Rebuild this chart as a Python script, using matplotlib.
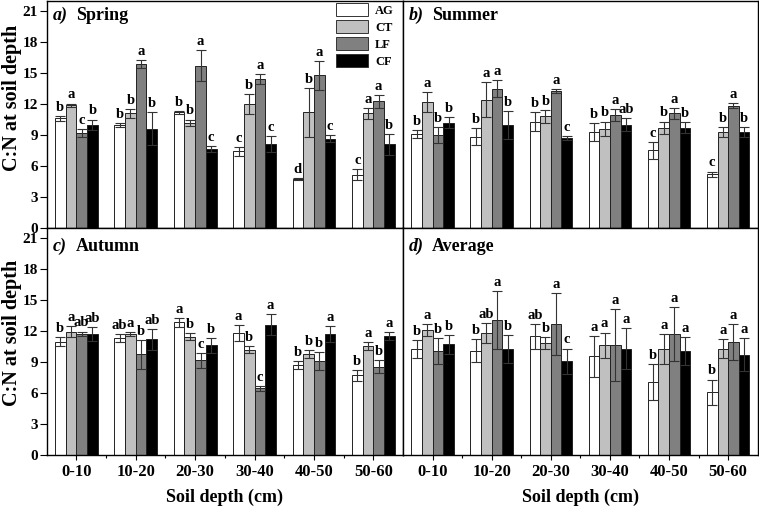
import matplotlib
matplotlib.use("Agg")
import matplotlib.pyplot as plt
import numpy as np
from matplotlib.patches import Patch
from matplotlib.ticker import MultipleLocator, FixedLocator

plt.rcParams['font.family'] = ['Liberation Serif', 'DejaVu Serif']
plt.rcParams['font.weight'] = 'bold'

depths = ["0-10", "10-20", "20-30", "30-40", "40-50", "50-60"]
treatments = ["AG", "CT", "LF", "CF"]
colors = ["#FFFFFF", "#C0C0C0", "#808080", "#000000"]

# Spring
spring_mean = {
    "AG": [10.6, 10.0, 11.2, 7.4, 4.75, 5.15],
    "CT": [11.9, 11.1, 10.2, 12.0, 11.2, 11.1],
    "LF": [9.2, 15.85, 15.7, 14.4, 14.8, 12.25],
    "CF": [10.0, 9.6, 7.65, 8.1, 8.65, 8.1],
}
spring_err = {
    "AG": [0.2, 0.2, 0.15, 0.4, 0.1, 0.5],
    "CT": [0.15, 0.45, 0.3, 1.0, 2.35, 0.55],
    "LF": [0.4, 0.4, 1.5, 0.5, 1.4, 0.6],
    "CF": [0.5, 1.6, 0.3, 0.8, 0.35, 1.0],
}
spring_let = {
    "AG": ["b", "b", "b", "c", "d", "c"],
    "CT": ["a", "b", "b", "b", "b", "a"],
    "LF": ["c", "a", "a", "a", "a", "a"],
    "CF": ["b", "b", "c", "c", "c", "b"],
}

# Summer
summer_mean = {
    "AG": [9.1, 8.85, 10.3, 9.3, 7.5, 5.2],
    "CT": [12.2, 12.4, 10.8, 9.6, 9.7, 9.3],
    "LF": [9.0, 13.5, 13.25, 10.95, 11.1, 11.85],
    "CF": [10.2, 10.0, 8.7, 10.0, 9.7, 9.3],
}
summer_err = {
    "AG": [0.4, 0.85, 0.9, 0.85, 0.8, 0.25],
    "CT": [1.0, 1.7, 0.6, 0.7, 0.6, 0.5],
    "LF": [0.8, 0.8, 0.2, 0.55, 0.55, 0.25],
    "CF": [0.5, 1.35, 0.2, 0.6, 0.55, 0.45],
}
summer_let = {
    "AG": ["b", "b", "b", "b", "c", "c"],
    "CT": ["a", "a", "b", "b", "b", "b"],
    "LF": ["b", "a", "a", "a", "a", "a"],
    "CF": ["b", "b", "c", "ab", "b", "b"],
}

# Autumn
autumn_mean = {
    "AG": [10.98, 11.3, 12.85, 11.8, 8.7, 7.7],
    "CT": [11.95, 11.7, 11.45, 10.2, 9.8, 10.55],
    "LF": [11.75, 9.75, 9.15, 6.45, 9.1, 8.55],
    "CF": [11.7, 11.2, 10.6, 12.6, 11.7, 11.5],
}
autumn_err = {
    "AG": [0.4, 0.4, 0.45, 0.8, 0.35, 0.55],
    "CT": [0.5, 0.2, 0.35, 0.35, 0.4, 0.4],
    "LF": [0.2, 1.4, 0.75, 0.25, 0.85, 0.65],
    "CF": [0.7, 1.0, 0.7, 1.0, 0.8, 0.4],
}
autumn_let = {
    "AG": ["b", "ab", "a", "a", "b", "b"],
    "CT": ["a", "a", "b", "b", "b", "a"],
    "LF": ["ab", "b", "c", "c", "b", "b"],
    "CF": ["ab", "ab", "b", "a", "a", "a"],
}

# Average
average_mean = {
    "AG": [10.25, 10.1, 11.5, 9.55, 7.05, 6.05],
    "CT": [12.1, 11.8, 10.85, 10.6, 10.25, 10.3],
    "LF": [10.05, 13.05, 12.7, 10.65, 11.7, 10.95],
    "CF": [10.7, 10.3, 9.05, 10.3, 10.05, 9.7],
}
average_err = {
    "AG": [0.85, 1.1, 1.2, 2.0, 1.75, 1.25],
    "CT": [0.6, 1.0, 0.6, 1.25, 1.45, 0.9],
    "LF": [1.25, 2.8, 3.0, 3.45, 2.6, 1.75],
    "CF": [0.95, 1.35, 1.25, 1.95, 1.35, 1.6],
}
average_let = {
    "AG": ["b", "b", "ab", "a", "b", "b"],
    "CT": ["a", "ab", "b", "a", "a", "a"],
    "LF": ["b", "a", "a", "a", "a", "a"],
    "CF": ["b", "b", "c", "a", "a", "a"],
}

panels = [
    ("a)", "Spring", spring_mean, spring_err, spring_let),
    ("b)", "Summer", summer_mean, summer_err, summer_let),
    ("c)", "Autumn", autumn_mean, autumn_err, autumn_let),
    ("d)", "Average", average_mean, average_err, average_let),
]

W, H = 759, 509
fig = plt.figure(figsize=(W / 100, H / 100), dpi=100)

lx0, lx1 = 46.7, 403.0
rx0, rx1 = 403.0, 757.7
ty0, ty1 = 1.0, 227.7
by0, by1 = 227.7, 455.0

def rect(x0, x1, y0, y1):
    return [x0 / W, 1 - y1 / H, (x1 - x0) / W, (y1 - y0) / H]

rects = [rect(lx0, lx1, ty0, ty1), rect(rx0, rx1, ty0, ty1),
         rect(lx0, lx1, by0, by1), rect(rx0, rx1, by0, by1)]

bw = 0.18
offsets = [-0.27, -0.09, 0.09, 0.27]
x = np.arange(len(depths))

for i, (tag, name, mean, err, let) in enumerate(panels):
    ax = fig.add_axes(rects[i])
    for j, t in enumerate(treatments):
        ax.bar(x + offsets[j], mean[t], width=bw, color=colors[j],
               edgecolor="#222222", linewidth=0.7, label=t, zorder=2)
        ax.errorbar(x + offsets[j], mean[t], yerr=err[t], fmt='none',
                    ecolor="#333333", elinewidth=0.8, capsize=3.5,
                    capthick=0.8, zorder=3)
        for k in range(len(depths)):
            ax.annotate(let[t][k], (x[k] + offsets[j], mean[t][k] + err[t][k]),
                        xytext=(0, 1.5), textcoords='offset points',
                        ha='center', va='bottom', fontsize=10.5,
                        fontweight='bold')
    ax.set_xlim(-0.5, 5.5)
    ax.set_ylim(0, 22)
    for s in ax.spines.values():
        s.set_linewidth(1.0)
    ax.xaxis.set_major_locator(FixedLocator(x))
    ax.xaxis.set_minor_locator(FixedLocator(x[:-1] + 0.5))
    ax.tick_params(axis='x', which='major', direction='out', length=3.5,
                   width=0.8, labelsize=12, pad=3)
    ax.tick_params(axis='x', which='minor', direction='out', length=2,
                   width=0.8)
    if i >= 2:
        ax.set_xticklabels(depths, fontweight='bold')
        ax.set_xlabel("Soil depth (cm)", fontsize=13, fontweight='bold',
                      labelpad=6)
    else:
        ax.set_xticklabels([])
    if i % 2 == 0:
        ax.yaxis.set_major_locator(MultipleLocator(3))
        ax.tick_params(axis='y', direction='out', length=5, width=0.8,
                       labelsize=11, pad=1.5)
        for lab in ax.get_yticklabels():
            lab.set_fontweight('bold')
    else:
        ax.set_yticks([])
    ax.text(0.018 if i % 2 == 0 else 0.016, 0.975 if i < 2 else 0.955, tag,
            transform=ax.transAxes, ha='left', va='top', fontsize=13,
            fontweight='bold', fontstyle='italic')
    ax.annotate(name, (0.018 if i % 2 == 0 else 0.016, 0.975 if i < 2 else 0.955),
                xycoords='axes fraction', xytext=(16.5, 0),
                textcoords='offset points', ha='left', va='top',
                fontsize=13, fontweight='bold')
    if i == 0:
        handles = [Patch(facecolor=c, edgecolor="#333333", linewidth=0.7)
                   for c in colors]
        ax.legend(handles, treatments, loc='upper left',
                  bbox_to_anchor=(0.813, 0.99), frameon=False,
                  prop={'family': 'Liberation Serif', 'weight': 'bold', 'size': 9},
                  handlelength=2.5, handleheight=1.17, labelspacing=0.28,
                  handletextpad=0.6, borderpad=0, borderaxespad=0)

for yc in (98, 333):
    fig.text(12.0 / W, 1 - yc / H, "C:N at soil depth", rotation=90,
             ha='center', va='center', fontsize=14.5, fontweight='bold')

fig.savefig("out.png", dpi=100)
